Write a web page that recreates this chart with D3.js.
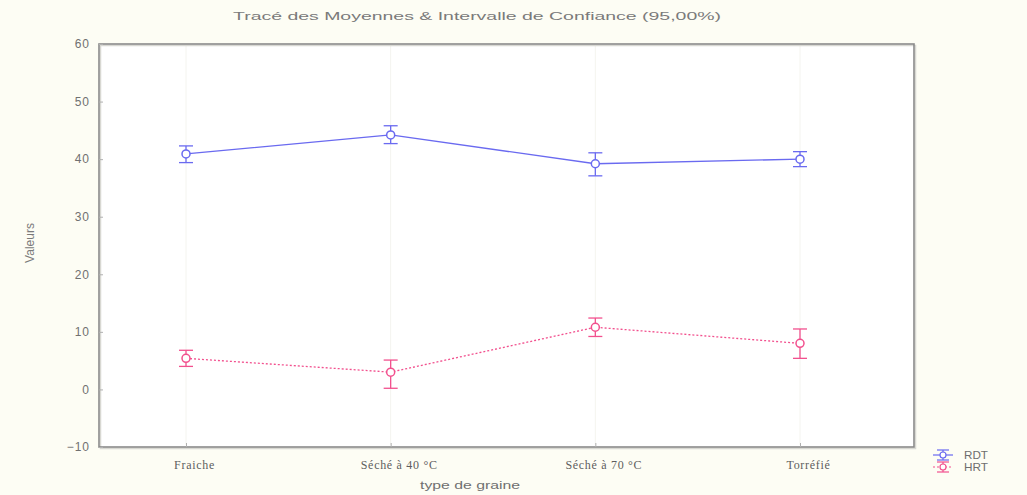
<!DOCTYPE html>
<html>
<head>
<meta charset="utf-8">
<script src="https://cdn.jsdelivr.net/npm/d3@7"></script>
<style>
  html, body { margin: 0; padding: 0; background: #fdfdf4; }
  svg { display: block; }
</style>
</head>
<body>
<svg id="chart" width="1027" height="495"></svg>
<script>
// Categories (grain type) and tick values
const categories = ["Fraiche", "Séché à 40 °C", "Séché à 70 °C", "Torréfié"];
const yTicks = [-10, 0, 10, 20, 30, 40, 50, 60];

// Means and 95% confidence bounds per series
const rdtMean = [40.9, 44.2, 39.2, 40.0];
const rdtLow  = [39.4, 42.7, 37.1, 38.7];
const rdtHigh = [42.3, 45.8, 41.1, 41.3];

const hrtMean = [5.4, 3.0, 10.8, 8.0];
const hrtLow  = [4.0, 0.2, 9.2, 5.4];
const hrtHigh = [6.8, 5.1, 12.4, 10.5];

const seriesNames = ["RDT", "HRT"];

const plot = { left: 99, right: 914, top: 44, bottom: 447 };

const svg = d3.select("#chart");

const x = d3.scalePoint()
  .domain(categories)
  .range([186, 800]);

const y = d3.scaleLinear()
  .domain([-10, 60])
  .range([plot.bottom, plot.top]);

const sans = "Liberation Sans, Arial, sans-serif";

// plot area
svg.append("rect")
  .attr("x", plot.left).attr("y", plot.top)
  .attr("width", plot.right - plot.left).attr("height", plot.bottom - plot.top)
  .attr("fill", "#ffffff");

// faint vertical guides at categories
svg.append("g").selectAll("line").data(categories).join("line")
  .attr("x1", d => x(d)).attr("x2", d => x(d))
  .attr("y1", plot.top + 2).attr("y2", plot.bottom - 2)
  .attr("stroke", "#f4f4ef").attr("stroke-width", 1);

// frame with soft shadow
svg.append("rect")
  .attr("x", plot.left + 1.5).attr("y", plot.top + 1.5)
  .attr("width", plot.right - plot.left).attr("height", plot.bottom - plot.top)
  .attr("fill", "none").attr("stroke", "#d8d8d2").attr("stroke-width", 1.5);
svg.append("rect")
  .attr("x", plot.left).attr("y", plot.top)
  .attr("width", plot.right - plot.left).attr("height", plot.bottom - plot.top)
  .attr("fill", "none").attr("stroke", "#8a8a8a").attr("stroke-width", 1.6);

// y axis
const yAxis = d3.axisLeft(y).tickValues(yTicks).tickSize(-4).tickPadding(9);
const gy = svg.append("g").attr("transform", `translate(${plot.left},0)`).call(yAxis);
gy.select(".domain").remove();
gy.selectAll(".tick line").attr("stroke", "#b0b0b0");
gy.selectAll(".tick text")
  .attr("fill", "#707070")
  .style("font-family", sans)
  .style("font-size", "12px")
  .style("letter-spacing", "1px");

// x axis
const xAxis = d3.axisBottom(x).tickSize(-4).tickPadding(13);
const gx = svg.append("g").attr("transform", `translate(0,${plot.bottom})`).call(xAxis);
gx.select(".domain").remove();
gx.selectAll(".tick line").attr("stroke", "#b0b0b0");
gx.selectAll(".tick text")
  .attr("fill", "#5e5e5e")
  .attr("dx", "8")
  .style("font-family", "Liberation Serif, Times New Roman, serif")
  .style("font-size", "12px")
  .style("letter-spacing", "0.7px");

// title and axis titles
svg.append("text")
  .attr("x", 477).attr("y", 20)
  .attr("text-anchor", "middle")
  .attr("fill", "#7a7a7a")
  .attr("textLength", 488)
  .attr("lengthAdjust", "spacingAndGlyphs")
  .style("font-family", sans)
  .style("font-size", "10.5px")
  .text("Tracé des Moyennes & Intervalle de Confiance (95,00%)");

svg.append("text")
  .attr("transform", "translate(34,243) rotate(-90)")
  .attr("text-anchor", "middle")
  .attr("fill", "#7a7a7a")
  .style("font-family", sans)
  .style("font-size", "12px")
  .text("Valeurs");

svg.append("text")
  .attr("x", 470).attr("y", 489)
  .attr("text-anchor", "middle")
  .attr("fill", "#707070")
  .attr("textLength", 100)
  .attr("lengthAdjust", "spacingAndGlyphs")
  .style("font-family", sans)
  .style("font-size", "11px")
  .text("type de graine");

// series
const series = [
  { name: seriesNames[0], mean: rdtMean, low: rdtLow, high: rdtHigh, color: "#6a6af0", dash: null },
  { name: seriesNames[1], mean: hrtMean, low: hrtLow, high: hrtHigh, color: "#f2508e", dash: "2,2" }
];

const line = d3.line()
  .x(d => x(d.cat))
  .y(d => y(d.v));

series.forEach(s => {
  const pts = categories.map((c, i) => ({ cat: c, v: s.mean[i], lo: s.low[i], hi: s.high[i] }));
  const g = svg.append("g");

  g.append("path")
    .datum(pts)
    .attr("d", line)
    .attr("fill", "none")
    .attr("stroke", s.color)
    .attr("stroke-width", 1.3)
    .attr("stroke-dasharray", s.dash);

  const eb = g.selectAll("g.eb").data(pts).join("g").attr("class", "eb");
  eb.append("line")
    .attr("x1", d => x(d.cat)).attr("x2", d => x(d.cat))
    .attr("y1", d => y(d.lo)).attr("y2", d => y(d.hi))
    .attr("stroke", s.color).attr("stroke-width", 1.3);
  eb.append("line")
    .attr("x1", d => x(d.cat) - 7).attr("x2", d => x(d.cat) + 7)
    .attr("y1", d => y(d.hi)).attr("y2", d => y(d.hi))
    .attr("stroke", s.color).attr("stroke-width", 1.3);
  eb.append("line")
    .attr("x1", d => x(d.cat) - 7).attr("x2", d => x(d.cat) + 7)
    .attr("y1", d => y(d.lo)).attr("y2", d => y(d.lo))
    .attr("stroke", s.color).attr("stroke-width", 1.3);
  eb.append("circle")
    .attr("cx", d => x(d.cat)).attr("cy", d => y(d.v))
    .attr("r", 4)
    .attr("fill", "#ffffff")
    .attr("stroke", s.color).attr("stroke-width", 1.5);
});

// legend
const legend = svg.append("g");
series.forEach((s, i) => {
  const ly = 455 + i * 12;
  const lx = 943;
  legend.append("line").attr("x1", lx - 10).attr("x2", lx + 10).attr("y1", ly).attr("y2", ly)
    .attr("stroke", s.color).attr("stroke-width", 1.2).attr("stroke-dasharray", s.dash);
  legend.append("line").attr("x1", lx).attr("x2", lx).attr("y1", ly - 5).attr("y2", ly + 5)
    .attr("stroke", s.color).attr("stroke-width", 1.2);
  legend.append("line").attr("x1", lx - 6).attr("x2", lx + 6).attr("y1", ly - 5).attr("y2", ly - 5)
    .attr("stroke", s.color).attr("stroke-width", 1.2);
  legend.append("line").attr("x1", lx - 6).attr("x2", lx + 6).attr("y1", ly + 5).attr("y2", ly + 5)
    .attr("stroke", s.color).attr("stroke-width", 1.2);
  legend.append("circle").attr("cx", lx).attr("cy", ly).attr("r", 3)
    .attr("fill", "#ffffff").attr("stroke", s.color).attr("stroke-width", 1.2);
  legend.append("text")
    .attr("x", 964).attr("y", ly + 4)
    .attr("fill", "#6e6e6e")
    .attr("textLength", 24)
    .attr("lengthAdjust", "spacingAndGlyphs")
    .style("font-family", sans)
    .style("font-size", "11px")
    .text(s.name);
});
</script>
</body>
</html>
